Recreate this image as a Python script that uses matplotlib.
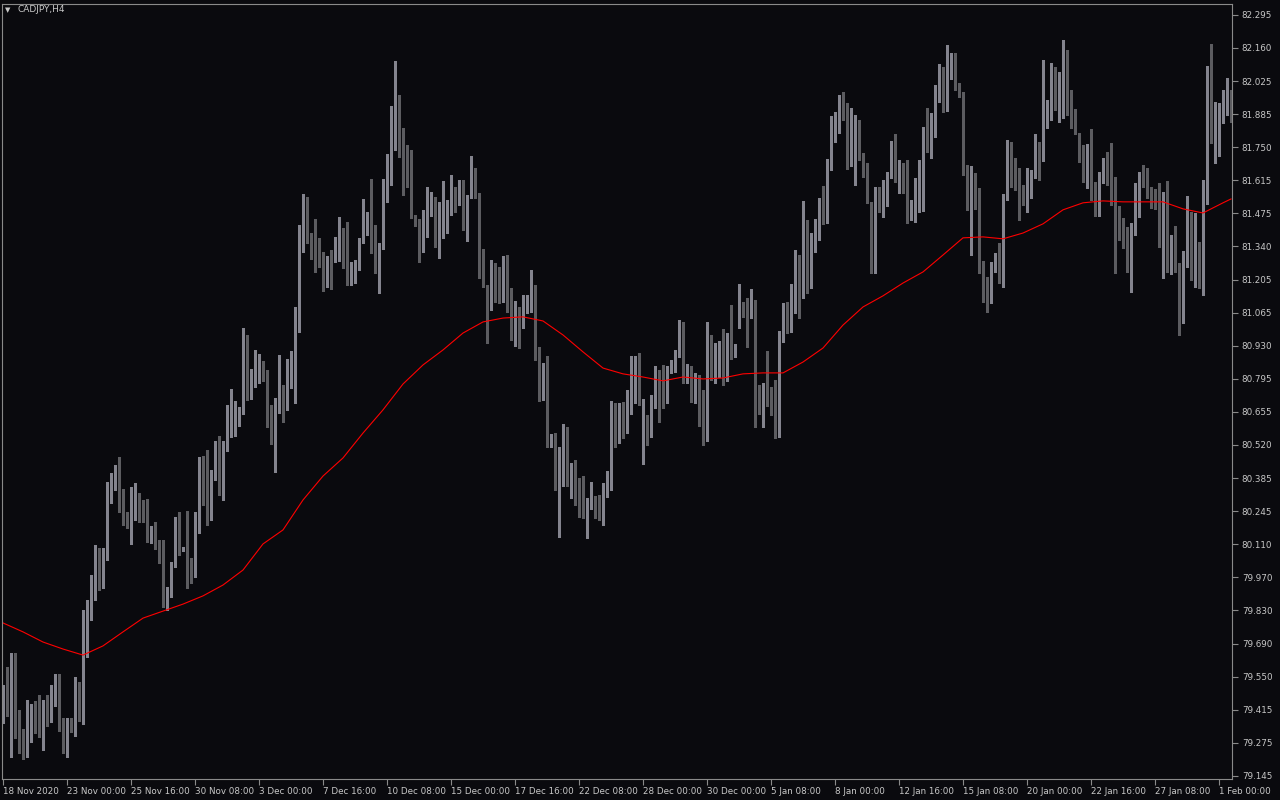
import numpy as np
import matplotlib
matplotlib.use("Agg")
import matplotlib.pyplot as plt

symbol = "CADJPY,H4"

opens = [
79.405,79.430,79.405,79.571,79.355,79.310,79.285,79.335,79.397,79.389,
79.335,79.430,79.409,79.451,79.492,79.339,79.260,79.372,79.339,79.505,
79.389,79.678,79.832,79.935,80.030,79.968,80.047,80.299,80.337,80.419,
80.246,80.221,80.212,80.279,80.312,80.262,80.254,80.126,80.179,80.088,
80.072,79.869,79.898,80.030,80.204,80.080,80.047,79.993,79.972,80.171,
80.461,80.287,80.225,80.390,80.477,80.328,80.527,80.585,80.626,80.643,
80.651,80.966,80.780,80.788,80.821,80.862,80.792,80.610,80.535,80.705,
80.709,80.668,80.846,80.846,81.020,81.351,81.454,81.380,81.376,81.334,
81.297,81.264,81.293,81.289,81.343,81.401,81.289,81.198,81.235,81.247,
81.355,81.442,81.471,81.425,81.297,81.334,81.571,81.620,81.815,81.910,
81.810,81.682,81.678,81.467,81.450,81.359,81.413,81.496,81.533,81.334,
81.392,81.434,81.479,81.571,81.517,81.587,81.438,81.541,81.612,81.545,
81.252,81.177,81.165,81.223,81.119,81.115,81.247,81.115,81.011,81.040,
81.032,81.074,81.086,81.140,80.920,80.784,80.854,80.552,80.564,80.332,
80.349,80.573,80.341,80.407,80.312,80.229,80.221,80.262,80.275,80.258,
80.208,80.328,80.332,80.668,80.573,80.660,80.577,80.709,80.738,80.879,
80.515,80.597,80.556,80.705,80.730,80.718,80.689,80.842,80.846,80.891,
80.995,80.771,80.792,80.722,80.763,80.639,80.540,80.866,80.817,80.916,
80.920,80.784,80.916,80.883,81.007,81.086,81.049,81.040,81.107,80.709,
80.660,80.730,80.722,80.718,80.552,80.958,81.074,81.049,81.132,81.273,
81.190,81.405,81.247,81.351,81.376,81.492,81.454,81.686,81.782,81.848,
81.926,81.873,81.728,81.810,81.757,81.711,81.641,81.521,81.231,81.579,
81.533,81.541,81.641,81.744,81.641,81.649,81.604,81.483,81.500,81.545,
81.620,81.827,81.782,81.810,81.955,82.055,81.902,82.042,82.117,82.001,
81.964,81.661,81.521,81.637,81.496,81.231,81.194,81.136,81.239,81.264,
81.235,81.546,81.682,81.661,81.600,81.575,81.554,81.579,81.628,81.740,
81.695,81.873,81.881,82.030,81.926,81.955,82.084,81.893,81.873,81.806,
81.719,81.620,81.757,81.541,81.521,81.608,81.695,81.624,81.579,81.442,
81.405,81.376,81.247,81.397,81.546,81.628,81.600,81.579,81.537,81.537,
81.434,81.558,81.281,81.384,81.260,81.061,81.256,81.421,81.206,81.343,
81.169,81.583,81.972,81.765,81.848,81.848,81.964,81.972]

highs = [
79.521,79.596,79.654,79.654,79.418,79.339,79.459,79.442,79.455,79.480,
79.459,79.480,79.521,79.567,79.567,79.384,79.384,79.384,79.554,79.534,
79.832,79.873,79.976,80.101,80.088,80.088,80.362,80.399,80.432,80.465,
80.333,80.237,80.341,80.357,80.316,80.287,80.291,80.179,80.196,80.121,
80.121,79.927,80.030,80.217,80.237,80.092,80.241,80.047,80.237,80.465,
80.469,80.494,80.411,80.531,80.552,80.531,80.680,80.747,80.697,80.672,
80.999,80.970,80.829,80.908,80.891,80.862,80.825,80.680,80.709,80.886,
80.763,80.870,80.904,81.086,81.425,81.554,81.541,81.392,81.450,81.372,
81.314,81.297,81.322,81.376,81.459,81.413,81.438,81.273,81.281,81.372,
81.533,81.479,81.616,81.425,81.351,81.616,81.719,81.918,82.104,81.964,
81.827,81.757,81.736,81.467,81.450,81.488,81.583,81.562,81.541,81.521,
81.608,81.529,81.632,81.583,81.612,81.612,81.550,81.711,81.661,81.558,
81.326,81.177,81.281,81.268,81.252,81.297,81.301,81.165,81.111,81.086,
81.136,81.136,81.239,81.177,80.920,80.854,80.883,80.560,80.564,80.506,
80.602,80.589,80.440,80.453,80.378,80.386,80.295,80.362,80.304,80.308,
80.357,80.407,80.697,80.689,80.689,80.693,80.742,80.883,80.883,80.895,
80.705,80.639,80.722,80.842,80.825,80.846,80.842,80.866,80.908,81.032,
81.024,80.850,80.842,80.813,80.804,80.742,81.024,80.970,80.937,80.945,
80.995,80.978,81.094,80.933,81.181,81.107,81.123,81.160,81.115,80.763,
80.771,80.904,80.755,80.784,80.987,81.102,81.107,81.181,81.322,81.301,
81.525,81.446,81.392,81.450,81.537,81.587,81.699,81.877,81.893,81.964,
81.976,81.931,81.910,81.881,81.860,81.724,81.682,81.521,81.583,81.583,
81.612,81.645,81.773,81.802,81.695,81.682,81.695,81.529,81.620,81.695,
81.831,81.910,81.889,82.005,82.092,82.080,82.171,82.138,82.138,82.013,
81.976,81.674,81.670,81.641,81.579,81.277,81.210,81.273,81.310,81.351,
81.554,81.777,81.769,81.703,81.661,81.591,81.661,81.653,81.802,81.769,
82.109,81.943,82.096,82.080,82.059,82.191,82.150,81.984,81.906,81.806,
81.757,81.761,81.823,81.604,81.645,81.703,81.728,81.765,81.624,81.504,
81.454,81.417,81.434,81.600,81.645,81.674,81.661,81.583,81.575,81.600,
81.562,81.608,81.384,81.421,81.268,81.318,81.546,81.479,81.475,81.355,
81.612,82.084,82.175,81.935,81.931,81.984,82.034,81.984]

lows = [
79.364,79.393,79.223,79.302,79.240,79.215,79.223,79.285,79.322,79.306,
79.252,79.351,79.368,79.434,79.331,79.240,79.223,79.327,79.310,79.372,
79.360,79.637,79.790,79.873,79.914,79.923,80.039,80.275,80.328,80.237,
80.183,80.171,80.105,80.204,80.196,80.196,80.113,80.109,80.084,80.026,
79.844,79.832,79.885,80.010,80.059,80.076,79.923,79.943,79.968,80.150,
80.266,80.183,80.204,80.370,80.308,80.287,80.490,80.548,80.552,80.593,
80.643,80.701,80.705,80.755,80.771,80.780,80.589,80.519,80.403,80.647,
80.610,80.660,80.751,80.689,80.983,81.314,81.351,81.285,81.231,81.252,
81.152,81.169,81.160,81.273,81.277,81.248,81.177,81.177,81.185,81.239,
81.351,81.384,81.310,81.227,81.144,81.326,81.521,81.591,81.736,81.707,
81.550,81.583,81.454,81.421,81.273,81.314,81.376,81.463,81.334,81.289,
81.372,81.392,81.467,81.479,81.508,81.405,81.359,81.537,81.537,81.206,
81.169,80.937,81.074,81.107,81.102,81.107,81.065,80.949,80.924,80.916,
80.999,81.061,81.065,80.866,80.697,80.701,80.506,80.506,80.328,80.134,
80.345,80.345,80.295,80.266,80.217,80.212,80.130,80.250,80.212,80.204,
80.183,80.299,80.328,80.506,80.523,80.544,80.564,80.643,80.689,80.680,
80.436,80.515,80.548,80.668,80.610,80.668,80.689,80.813,80.817,80.879,
80.771,80.771,80.693,80.689,80.593,80.515,80.531,80.784,80.771,80.796,
80.763,80.780,80.871,80.879,80.999,81.045,80.920,81.040,80.589,80.643,
80.589,80.676,80.639,80.544,80.548,80.941,80.978,80.983,81.061,81.040,
81.123,81.144,81.165,81.314,81.363,81.430,81.434,81.653,81.769,81.806,
81.860,81.657,81.670,81.591,81.695,81.624,81.517,81.227,81.227,81.479,
81.459,81.504,81.620,81.604,81.558,81.558,81.434,81.446,81.438,81.479,
81.483,81.728,81.703,81.790,81.935,81.893,81.897,82.030,81.984,81.955,
81.632,81.488,81.301,81.492,81.227,81.107,81.065,81.102,81.231,81.185,
81.169,81.529,81.583,81.571,81.446,81.508,81.479,81.537,81.620,81.612,
81.690,81.827,81.860,81.902,81.852,81.868,81.881,81.827,81.802,81.686,
81.604,81.579,81.529,81.463,81.463,81.600,81.591,81.508,81.227,81.363,
81.330,81.231,81.148,81.384,81.459,81.583,81.537,81.496,81.492,81.334,
81.206,81.231,81.223,81.231,80.970,81.020,81.252,81.198,81.169,81.165,
81.136,81.512,81.765,81.682,81.711,81.848,81.881,81.852]

closes = [
79.430,79.405,79.571,79.355,79.306,79.285,79.335,79.397,79.384,79.335,
79.430,79.409,79.455,79.492,79.335,79.248,79.372,79.339,79.509,79.393,
79.687,79.832,79.935,80.030,79.968,80.047,80.308,80.341,80.419,80.241,
80.225,80.212,80.283,80.308,80.254,80.250,80.126,80.179,80.088,80.059,
79.869,79.898,80.030,80.200,80.080,80.088,79.989,79.968,80.171,80.461,
80.287,80.225,80.395,80.477,80.328,80.531,80.585,80.631,80.643,80.655,
80.966,80.780,80.792,80.821,80.862,80.788,80.606,80.535,80.709,80.709,
80.668,80.854,80.850,81.024,81.355,81.475,81.376,81.372,81.334,81.293,
81.264,81.293,81.289,81.343,81.405,81.277,81.202,81.239,81.252,81.363,
81.446,81.471,81.421,81.289,81.339,81.575,81.624,81.819,81.906,81.806,
81.682,81.674,81.463,81.446,81.359,81.454,81.500,81.533,81.334,81.392,
81.438,81.483,81.575,81.517,81.587,81.438,81.541,81.612,81.541,81.247,
81.173,81.165,81.227,81.111,81.107,81.247,81.115,81.016,81.040,81.036,
81.078,81.090,81.140,80.916,80.780,80.796,80.556,80.560,80.332,80.349,
80.569,80.349,80.407,80.312,80.221,80.217,80.266,80.279,80.254,80.208,
80.328,80.337,80.668,80.573,80.660,80.577,80.718,80.742,80.879,80.689,
80.597,80.552,80.709,80.726,80.709,80.693,80.838,80.850,80.891,80.991,
80.771,80.796,80.722,80.763,80.635,80.544,80.866,80.796,80.929,80.924,
80.776,80.916,80.883,80.916,81.086,81.045,81.040,81.111,80.709,80.664,
80.734,80.718,80.714,80.552,80.958,81.069,81.049,81.132,81.273,81.198,
81.405,81.247,81.355,81.376,81.492,81.454,81.690,81.782,81.852,81.926,
81.873,81.724,81.810,81.873,81.707,81.641,81.521,81.231,81.579,81.537,
81.541,81.645,81.744,81.641,81.649,81.604,81.488,81.508,81.550,81.620,
81.831,81.782,81.815,81.955,82.059,81.897,82.051,82.117,81.997,81.964,
81.661,81.521,81.637,81.500,81.227,81.190,81.136,81.239,81.264,81.235,
81.546,81.682,81.661,81.595,81.571,81.558,81.579,81.628,81.736,81.695,
81.873,81.885,82.030,81.922,81.960,82.088,81.889,81.868,81.802,81.719,
81.620,81.757,81.533,81.463,81.608,81.695,81.616,81.575,81.438,81.409,
81.372,81.247,81.401,81.546,81.628,81.600,81.579,81.537,81.529,81.434,
81.558,81.268,81.384,81.260,81.061,81.260,81.421,81.214,81.343,81.169,
81.587,81.972,81.765,81.918,81.856,81.972,81.972,81.856]

# moving average (red line), sampled every 5 bars
ma_bars = list(range(0, 306, 5)) + [307]
ma_values = [
79.778,79.741,79.699,79.670,79.645,79.683,79.741,79.798,79.827,79.856,
79.890,79.935,79.997,80.105,80.163,80.287,80.386,80.461,80.564,80.660,
80.767,80.846,80.908,80.978,81.024,81.040,81.045,81.028,80.970,80.900,
80.833,80.809,80.796,80.780,80.796,80.788,80.792,80.809,80.813,80.813,
80.858,80.916,81.011,81.086,81.132,81.185,81.231,81.301,81.372,81.376,
81.368,81.392,81.430,81.488,81.517,81.525,81.521,81.521,81.521,81.492,
81.475,81.517,81.533]

date_labels = ["18 Nov 2020", "23 Nov 00:00", "25 Nov 16:00", "30 Nov 08:00",
               "3 Dec 00:00", "7 Dec 16:00", "10 Dec 08:00", "15 Dec 00:00",
               "17 Dec 16:00", "22 Dec 08:00", "28 Dec 00:00", "30 Dec 00:00",
               "5 Jan 08:00", "8 Jan 00:00", "12 Jan 16:00", "15 Jan 08:00",
               "20 Jan 00:00", "22 Jan 16:00", "27 Jan 08:00", "1 Feb 00:00"]
date_label_bars = [16 * k for k in range(len(date_labels))]

price_labels = ["82.295", "82.160", "82.025", "81.885", "81.750", "81.615",
                "81.475", "81.340", "81.205", "81.065", "80.930", "80.795",
                "80.655", "80.520", "80.385", "80.245", "80.110", "79.970",
                "79.830", "79.690", "79.550", "79.415", "79.275", "79.145"]
price_top, price_bottom = 82.295, 79.145

BG = "#0a0a0e"
BULL_BODY = "#a0a0ac"
BULL_WICK = "#84848e"
BEAR_BODY = "#5c5c60"
BEAR_WICK = "#5c5c60"
FRAME = "#8a8a8a"
TEXT = "#c8c8c8"

o = np.array(opens); h = np.array(highs); l = np.array(lows); c = np.array(closes)
n = len(c)
x = np.arange(n)
bull = c >= o

fig = plt.figure(figsize=(12.8, 8), dpi=100, facecolor=BG)
ax = fig.add_axes([2 / 1280, 21 / 800, 1230 / 1280, 775 / 800])
ax.set_facecolor(BG)

# wicks
ax.vlines(x[bull], l[bull], h[bull], color=BULL_WICK, linewidth=1.0, antialiased=False)
ax.vlines(x[~bull], l[~bull], h[~bull], color=BEAR_WICK, linewidth=1.0, antialiased=False)
# bodies
body_lo = np.minimum(o, c)
body_h = np.maximum(np.abs(c - o), 0.004)
ax.bar(x[bull], body_h[bull], bottom=body_lo[bull], width=0.68, color=BULL_BODY,
       linewidth=0, antialiased=False)
ax.bar(x[~bull], body_h[~bull], bottom=body_lo[~bull], width=0.68, color=BEAR_BODY,
       linewidth=0, antialiased=False)

# moving average
ax.plot(ma_bars, ma_values, color="#ff0000", linewidth=0.8)

ax.set_xlim(-0.25, 307.25)
ax.set_ylim(79.132, 82.340)

yt = np.linspace(price_top, price_bottom, len(price_labels))
ax.yaxis.tick_right()
ax.set_yticks(yt)
ax.set_yticklabels(price_labels)
ax.set_xticks(date_label_bars)
ax.set_xticklabels(date_labels, ha="left")
ax.tick_params(axis="y", colors=FRAME, labelcolor=TEXT, labelsize=6.3, length=4, width=0.8, pad=3)
ax.tick_params(axis="x", colors=FRAME, labelcolor=TEXT, labelsize=6.3, length=4, width=0.8, pad=2)

for s in ax.spines.values():
    s.set_color(FRAME)
    s.set_linewidth(0.8)

fig.text(5 / 1280, 1 - 10 / 800, "\u25BC", color=TEXT, fontsize=5, va="center", ha="left")
fig.text(18 / 1280, 1 - 10 / 800, symbol, color=TEXT, fontsize=6.5, va="center", ha="left")

fig.savefig("out.png", dpi=100, facecolor=BG)
